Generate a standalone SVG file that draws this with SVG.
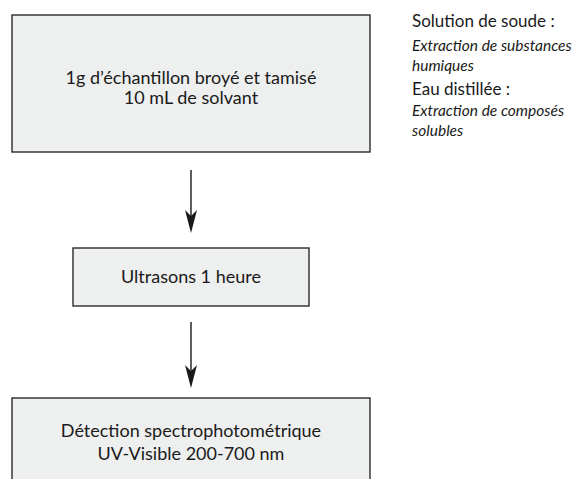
<svg xmlns="http://www.w3.org/2000/svg" width="576" height="479" viewBox="0 0 576 479">
<style>
.box{fill:#eeefef;stroke:#2b2b2b;stroke-width:1.4}
.t{font-family:Lato,"Liberation Sans",sans-serif;font-size:18px;fill:#1a1a1a;text-anchor:middle}
.n{font-family:Lato,"Liberation Sans",sans-serif;font-size:17px;fill:#1a1a1a}
.i{font-style:italic;font-size:15.5px}
.c{stroke:#1a1a1a;stroke-width:1.4;fill:none}
</style>
<defs>
<marker id="ah" viewBox="-24 -7 25 14" refX="-8" refY="0" markerWidth="25" markerHeight="14" markerUnits="userSpaceOnUse" orient="auto" overflow="visible">
<path d="M0,0 L-23,-6 L-17,0 L-23,6 Z" fill="#1a1a1a"/>
</marker>
</defs>
<rect width="576" height="479" fill="#ffffff"/>
<g id="node-echantillon">
<rect class="box" x="12" y="15" width="358" height="137"/>
<text class="t" x="191" y="84">1g d’échantillon broyé et tamisé</text>
<text class="t" x="191" y="104">10 mL de solvant</text>
</g>
<g id="node-ultrasons">
<rect class="box" x="73" y="248" width="236" height="58"/>
<text class="t" x="191" y="283">Ultrasons 1 heure</text>
</g>
<g id="node-detection">
<rect class="box" x="12" y="398" width="358" height="90"/>
<text class="t" x="191" y="437">Détection spectrophotométrique</text>
<text class="t" x="191" y="460">UV-Visible 200-700 nm</text>
</g>
<g id="notes">
<text class="n" x="412" y="27">Solution de soude :</text>
<text class="n i" x="412" y="51">Extraction de substances</text>
<text class="n i" x="412" y="71">humiques</text>
<text class="n" x="412" y="95">Eau distillée :</text>
<text class="n i" x="412" y="116">Extraction de composés</text>
<text class="n i" x="412" y="136">solubles</text>
</g>
<g id="connectors">
<line class="c" x1="191" y1="170" x2="191" y2="225" marker-end="url(#ah)"/>
<line class="c" x1="191" y1="322" x2="191" y2="380" marker-end="url(#ah)"/>
</g>
</svg>
